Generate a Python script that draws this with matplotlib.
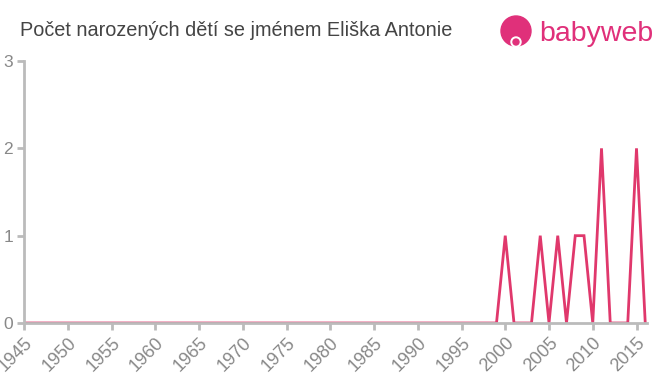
import matplotlib
matplotlib.use('Agg')
import matplotlib.pyplot as plt
from matplotlib.patches import Circle

plt.rcParams['font.family'] = ['Liberation Sans', 'DejaVu Sans']

years = list(range(1945, 2017))
counts = [0] * 55 + [1, 0, 0, 0, 1, 0, 1, 0, 1, 1, 0, 2, 0, 0, 0, 2, 0]
xticks = list(range(1945, 2016, 5))
yticks = [0, 1, 2, 3]

title = 'Počet narozených dětí se jménem Eliška Antonie'
line_color = '#e0386c'
axis_color = '#bbbbbb'
text_color = '#888888'

fig = plt.figure(figsize=(6.6, 3.75), dpi=100)
ax = fig.add_axes([24 / 660, 52 / 375, 623 / 660, 262 / 375])
ax.plot(years, counts, color=line_color, linewidth=2, solid_joinstyle='miter')
ax.set_xlim(1945, 2016.2)
ax.set_ylim(0, 3)
ax.set_xticks(xticks)
ax.set_xticklabels([str(y) for y in xticks], rotation=45, ha='right',
                   rotation_mode='anchor', fontsize=13, color=text_color)
ax.set_yticks(yticks)
ax.set_yticklabels([str(y) for y in yticks], fontsize=12.5, color=text_color)
ax.tick_params(axis='both', color=axis_color, length=5, width=2)
ax.tick_params(axis='x', pad=3)
ax.tick_params(axis='y', pad=3)
for side in ['top', 'right']:
    ax.spines[side].set_visible(False)
for side in ['left', 'bottom']:
    ax.spines[side].set_color(axis_color)
    ax.spines[side].set_linewidth(2)

fig.text(20 / 660, 1 - 30 / 375, title, fontsize=14.3, color='#444444',
         va='center', ha='left')

# logo
logo = '#e0307a'
lax = fig.add_axes([0, 0, 1, 1], facecolor='none')
lax.set_xlim(0, 660)
lax.set_ylim(375, 0)
lax.axis('off')
lax.add_patch(Circle((516, 31), 15, color=logo))
lax.add_patch(Circle((516, 42), 5, color='white'))
lax.add_patch(Circle((516, 42), 3, color=logo))
lax.text(539, 34, 'babyweb', fontsize=20.5, color=logo, va='center', ha='left')

fig.savefig('out.png', dpi=100)
